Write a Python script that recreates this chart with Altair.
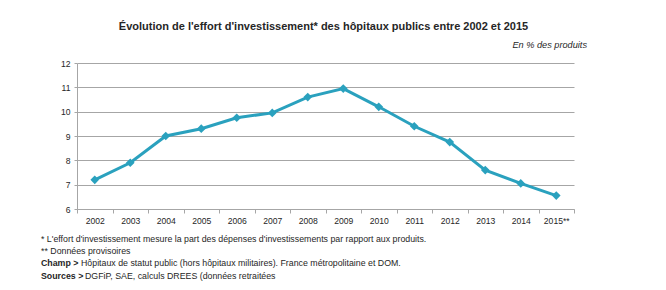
import altair as alt
import pandas as pd

# Effort d'investissement des hôpitaux publics (en % des produits)
annees = ["2002", "2003", "2004", "2005", "2006", "2007", "2008",
          "2009", "2010", "2011", "2012", "2013", "2014", "2015**"]
effort = [7.2, 7.9, 9.0, 9.3, 9.75, 9.95, 10.6,
          10.95, 10.2, 9.4, 8.75, 7.6, 7.05, 6.55]

titre = "Évolution de l'effort d'investissement* des hôpitaux publics entre 2002 et 2015"
unite = "En % des produits"
notes = [
    ("", "* L'effort d'investissement mesure la part des dépenses d'investissements par rapport aux produits."),
    ("", "** Données provisoires"),
    ("Champ >", "Hôpitaux de statut public (hors hôpitaux militaires). France métropolitaine et DOM."),
    ("Sources >", "DGFiP, SAE, calculs DREES (données retraitées"),
]

FONT = "Liberation Sans, Arial, sans-serif"
TEAL = "#2AA1BE"
GRID = "#A6A6A6"
TXT = "#262626"

W, H = 497, 146
LEFT, TOP = 77, 63

df = pd.DataFrame({"annee": annees, "effort": effort})

x_enc = alt.X(
    "annee:N", sort=annees, title=None,
    scale=alt.Scale(type="band", paddingInner=0, paddingOuter=0),
    axis=alt.Axis(
        labelAngle=0, labelFont=FONT, labelFontSize=8.6, labelColor=TXT,
        tickBand="extent", tickSize=4, tickColor=GRID, domainColor=GRID,
        labelPadding=3, grid=False,
    ),
)
y_enc = alt.Y(
    "effort:Q", title=None,
    scale=alt.Scale(domain=[6, 12], nice=False, zero=False),
    axis=alt.Axis(
        values=[6, 7, 8, 9, 10, 11, 12], labelFont=FONT, labelFontSize=8.6,
        labelColor=TXT, tickSize=3, tickColor=GRID, domainColor=GRID,
        gridColor=GRID, gridWidth=1, labelPadding=4,
    ),
)

courbe = alt.Chart(df).mark_line(color=TEAL, strokeWidth=3).encode(x=x_enc, y=y_enc)
points = alt.Chart(df).mark_point(
    shape="diamond", filled=True, color=TEAL, size=75, opacity=1
).encode(x=x_enc, y=y_enc)

# Title and unit above the plot
titre_txt = alt.Chart(pd.DataFrame({"t": [titre]})).mark_text(
    font=FONT, fontSize=11, fontWeight="bold", color=TXT,
    align="center", baseline="middle",
).encode(x=alt.value(323.5 - LEFT), y=alt.value(27 - TOP), text="t:N")

unite_txt = alt.Chart(pd.DataFrame({"t": [unite]})).mark_text(
    font=FONT, fontSize=9.2, fontStyle="italic", color=TXT,
    align="right", baseline="middle",
).encode(x=alt.value(587 - LEFT), y=alt.value(45 - TOP), text="t:N")

# Footnotes below the axis
lignes_y = [238.5, 250.5, 263, 275.5]
couches_notes = []
for (gras, texte), yy in zip(notes, lignes_y):
    if gras:
        couches_notes.append(
            alt.Chart(pd.DataFrame({"t": [gras]})).mark_text(
                font=FONT, fontSize=8.8, fontWeight="bold", color=TXT,
                align="left", baseline="middle",
            ).encode(x=alt.value(41 - LEFT), y=alt.value(yy - TOP), text="t:N")
        )
        decal = 40 if gras.startswith("Champ") else 44
    else:
        decal = 0
    couches_notes.append(
        alt.Chart(pd.DataFrame({"t": [texte]})).mark_text(
            font=FONT, fontSize=8.8, color=TXT, align="left", baseline="middle",
        ).encode(x=alt.value(41 + decal - LEFT), y=alt.value(yy - TOP), text="t:N")
    )

chart = alt.layer(courbe, points, titre_txt, unite_txt, *couches_notes).properties(
    width=W, height=H,
    autosize=alt.AutoSizeParams(type="none"),
    padding={"left": LEFT, "top": TOP, "right": 666 - LEFT - W, "bottom": 290 - TOP - H},
    background="white",
).configure_view(stroke=None).configure_axisY(domain=True)

chart.save("out.html", embed_options={"renderer": "svg", "actions": False})
